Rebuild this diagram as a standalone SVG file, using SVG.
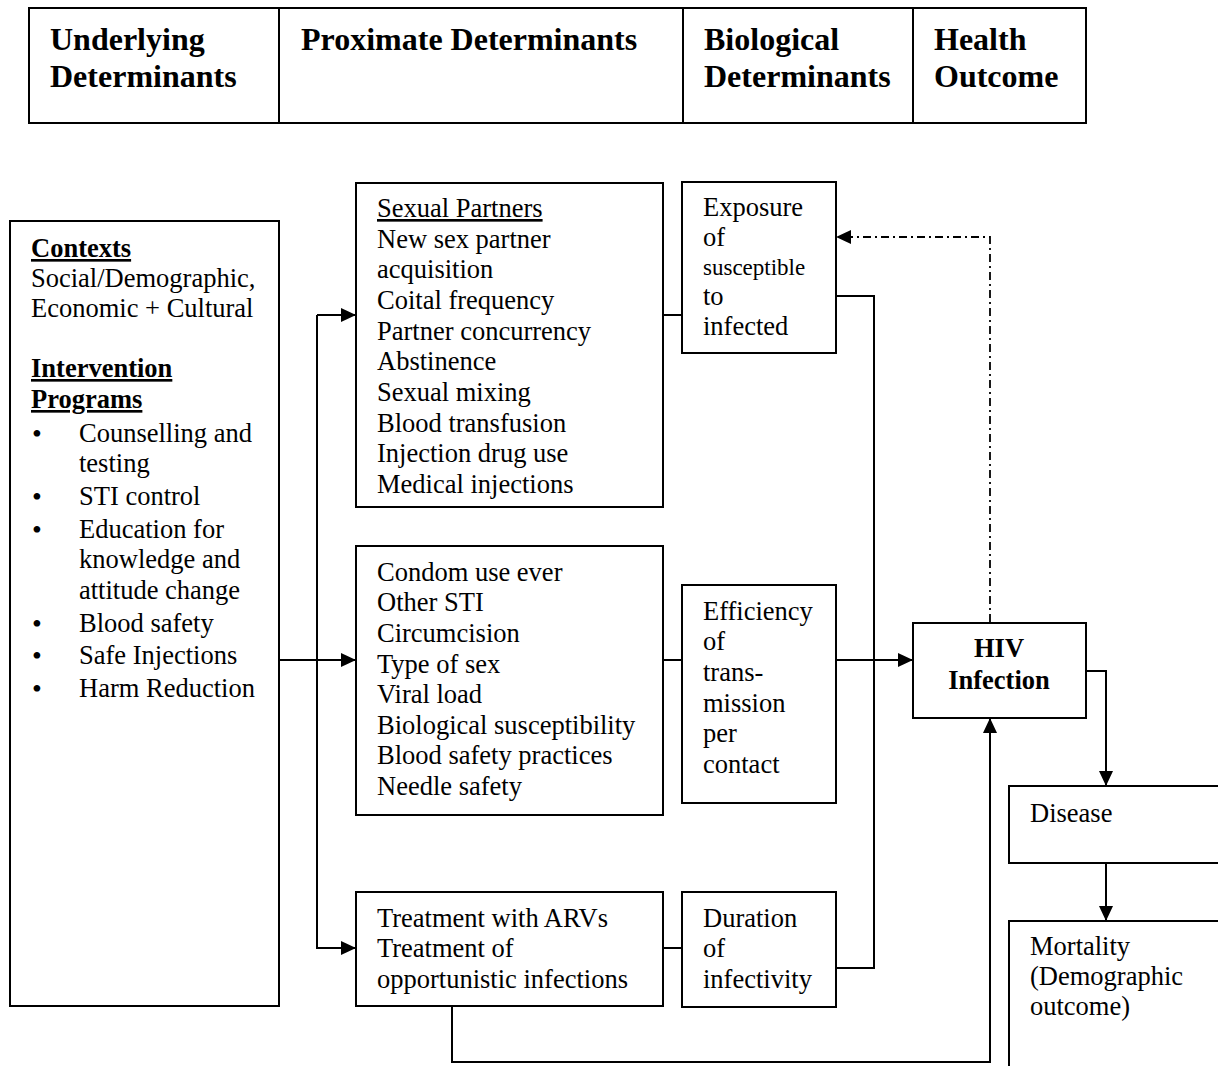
<svg xmlns="http://www.w3.org/2000/svg" width="1218" height="1066" viewBox="0 0 1218 1066">
<style>
.box{fill:#fff;stroke:#000;stroke-width:2}
.t{font-family:"Liberation Serif","Times New Roman",serif;font-size:26.5px;fill:#000}
.b{font-weight:bold}
.h{font-family:"Liberation Serif","Times New Roman",serif;font-size:32px;font-weight:bold;fill:#000}
.u{text-decoration:underline}
.bl{font-family:"Liberation Serif","Times New Roman",serif;font-size:28px;fill:#000}
.c{fill:none;stroke:#000;stroke-width:2}
.dd{fill:none;stroke:#000;stroke-width:1.8;stroke-dasharray:8 4 2 4}
</style>
<defs>
<marker id="arr" markerUnits="userSpaceOnUse" markerWidth="15" markerHeight="14" refX="15" refY="7" orient="auto">
<path d="M0,0 L15,7 L0,14 z" fill="#000"/>
</marker>
</defs>
<g id="header">
<rect class="box" x="29" y="8" width="1057" height="115"/>
<line x1="279" y1="8" x2="279" y2="123" stroke="#000" stroke-width="2"/>
<line x1="683" y1="8" x2="683" y2="123" stroke="#000" stroke-width="2"/>
<line x1="913" y1="8" x2="913" y2="123" stroke="#000" stroke-width="2"/>
<text class="h" x="50" y="50">Underlying</text>
<text class="h" x="50" y="87">Determinants</text>
<text class="h" x="301" y="50">Proximate Determinants</text>
<text class="h" x="704" y="50">Biological</text>
<text class="h" x="704" y="87">Determinants</text>
<text class="h" x="934" y="50">Health</text>
<text class="h" x="934" y="87">Outcome</text>
</g>
<g id="connectors">
<path class="c" d="M279,660 H356" marker-end="url(#arr)"/>
<path class="c" d="M317,315 H356" marker-end="url(#arr)"/>
<path class="c" d="M317,315 V948 H356" marker-end="url(#arr)"/>
<path class="c" d="M663,315 H682"/>
<path class="c" d="M663,660 H682"/>
<path class="c" d="M663,948 H682"/>
<path class="c" d="M836,296 H874 V968 H836"/>
<path class="c" d="M836,660 H913" marker-end="url(#arr)"/>
<path class="dd" d="M990,622 V237 H836" marker-end="url(#arr)"/>
<path class="c" d="M452,1006 V1062 H990 V718" marker-end="url(#arr)"/>
<path class="c" d="M1086,671 H1106 V786" marker-end="url(#arr)"/>
<path class="c" d="M1106,863 V921" marker-end="url(#arr)"/>
</g>
<g id="underlying">
<rect class="box" x="10" y="221" width="269" height="785"/>
<text class="t b u" x="31" y="257">Contexts</text>
<text class="t" x="31" y="287">Social/Demographic,</text>
<text class="t" x="31" y="317">Economic + Cultural</text>
<text class="t b u" x="31" y="377">Intervention</text>
<text class="t b u" x="31" y="408">Programs</text>
<text class="bl" x="32" y="443">•</text><text class="t" x="79" y="442">Counselling and</text>
<text class="t" x="79" y="472">testing</text>
<text class="bl" x="32" y="506">•</text><text class="t" x="79" y="505">STI control</text>
<text class="bl" x="32" y="539">•</text><text class="t" x="79" y="538">Education for</text>
<text class="t" x="79" y="568">knowledge and</text>
<text class="t" x="79" y="599">attitude change</text>
<text class="bl" x="32" y="633">•</text><text class="t" x="79" y="632">Blood safety</text>
<text class="bl" x="32" y="665">•</text><text class="t" x="79" y="664">Safe Injections</text>
<text class="bl" x="32" y="698">•</text><text class="t" x="79" y="697">Harm Reduction</text>
</g>
<g id="sexual-partners">
<rect class="box" x="356" y="183" width="307" height="324"/>
<text class="t u" x="377" y="217">Sexual Partners</text>
<text class="t" x="377" y="248">New sex partner</text>
<text class="t" x="377" y="278">acquisition</text>
<text class="t" x="377" y="309">Coital frequency</text>
<text class="t" x="377" y="340">Partner concurrency</text>
<text class="t" x="377" y="370">Abstinence</text>
<text class="t" x="377" y="401">Sexual mixing</text>
<text class="t" x="377" y="432">Blood transfusion</text>
<text class="t" x="377" y="462">Injection drug use</text>
<text class="t" x="377" y="493">Medical injections</text>
</g>
<g id="exposure">
<rect class="box" x="682" y="182" width="154" height="171"/>
<text class="t" x="703" y="216">Exposure</text>
<text class="t" x="703" y="246">of</text>
<text class="t" x="703" y="275" style="font-size:23px">susceptible</text>
<text class="t" x="703" y="305">to</text>
<text class="t" x="703" y="335">infected</text>
</g>
<g id="biological-factors">
<rect class="box" x="356" y="546" width="307" height="269"/>
<text class="t" x="377" y="581">Condom use ever</text>
<text class="t" x="377" y="611">Other STI</text>
<text class="t" x="377" y="642">Circumcision</text>
<text class="t" x="377" y="673">Type of sex</text>
<text class="t" x="377" y="703">Viral load</text>
<text class="t" x="377" y="734">Biological susceptibility</text>
<text class="t" x="377" y="764">Blood safety practices</text>
<text class="t" x="377" y="795">Needle safety</text>
</g>
<g id="efficiency">
<rect class="box" x="682" y="585" width="154" height="218"/>
<text class="t" x="703" y="620">Efficiency</text>
<text class="t" x="703" y="650">of</text>
<text class="t" x="703" y="681">trans-</text>
<text class="t" x="703" y="712">mission</text>
<text class="t" x="703" y="742">per</text>
<text class="t" x="703" y="773">contact</text>
</g>
<g id="treatment">
<rect class="box" x="356" y="892" width="307" height="114"/>
<text class="t" x="377" y="927">Treatment with ARVs</text>
<text class="t" x="377" y="957">Treatment of</text>
<text class="t" x="377" y="988">opportunistic infections</text>
</g>
<g id="duration">
<rect class="box" x="682" y="892" width="154" height="115"/>
<text class="t" x="703" y="927">Duration</text>
<text class="t" x="703" y="957">of</text>
<text class="t" x="703" y="988">infectivity</text>
</g>
<g id="hiv">
<rect class="box" x="913" y="623" width="173" height="95"/>
<text class="t b" x="999" y="657" text-anchor="middle">HIV</text>
<text class="t b" x="999" y="689" text-anchor="middle">Infection</text>
</g>
<g id="disease">
<rect class="box" x="1009" y="786" width="230" height="77"/>
<text class="t" x="1030" y="822">Disease</text>
</g>
<g id="mortality">
<rect class="box" x="1009" y="921" width="230" height="170"/>
<text class="t" x="1030" y="955">Mortality</text>
<text class="t" x="1030" y="985">(Demographic</text>
<text class="t" x="1030" y="1015">outcome)</text>
</g>
</svg>
